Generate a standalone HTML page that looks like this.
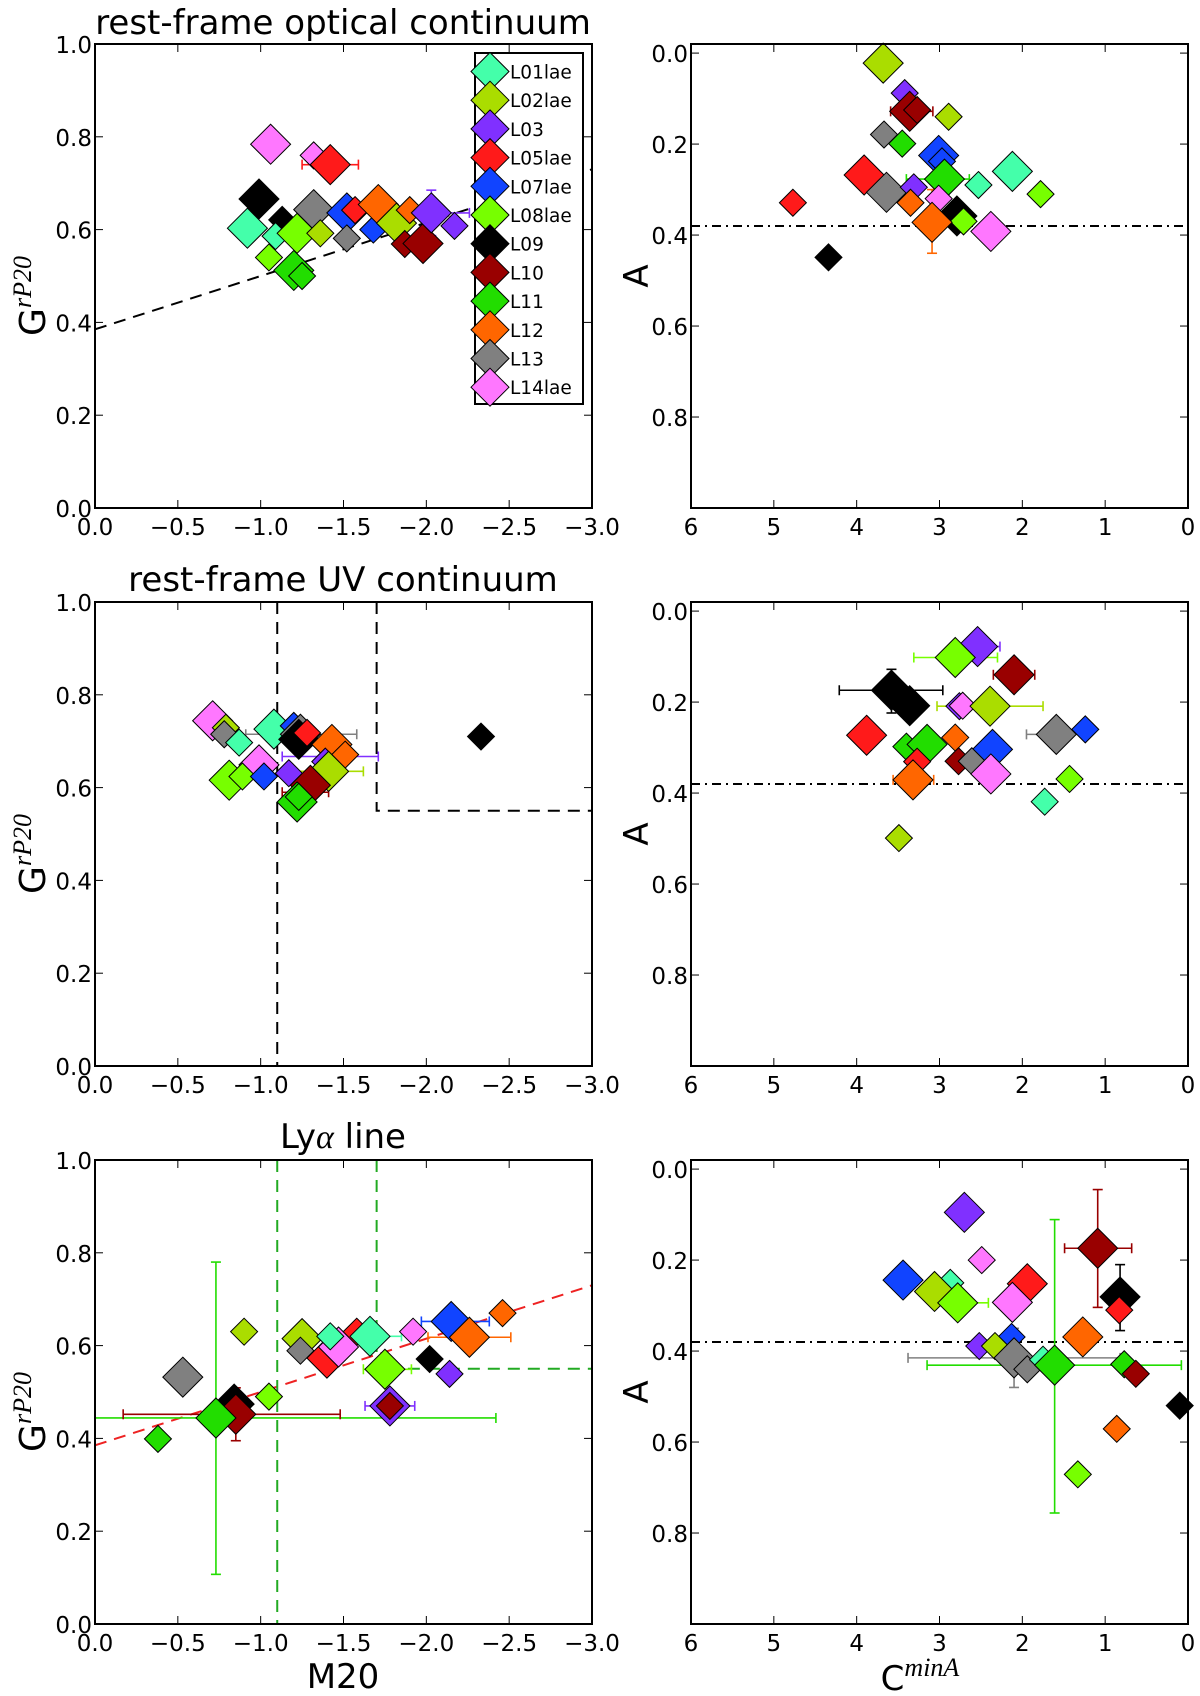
<!DOCTYPE html>
<html><head><meta charset="utf-8"><style>
html,body{margin:0;padding:0;background:#fff;}
svg{display:block;font-family:"DejaVu Sans","Liberation Sans",sans-serif;}
</style></head><body>
<svg id="fig" width="1200" height="1696" viewBox="0 0 1200 1696" xmlns="http://www.w3.org/2000/svg"></svg>
<script>
const seriesNames=['L01','L02','L03','L05','L07','L08','L09','L10','L11','L12','L13','L14'];
const seriesLabels=['L01lae','L02lae','L03','L05lae','L07lae','L08lae','L09','L10','L11','L12','L13','L14lae'];
const seriesColors=['#44ffaa','#aadd00','#8030ff','#ff1a1a','#1144ff','#77ff00','#000000','#990000','#22dd00','#ff6600','#808080','#ff77ff'];

// Panel 1: optical, G vs M20
const p1S=['L14','L14','L05','L09','L01','L09','L01','L08','L13','L02','L08','L11','L11','L07','L05','L07','L13','L12','L02','L12','L10','L10','L03','L03'];
const p1X=[-1.06,-1.32,-1.42,-0.99,-0.92,-1.13,-1.09,-1.22,-1.32,-1.36,-1.05,-1.20,-1.25,-1.52,-1.57,-1.68,-1.52,-1.71,-1.82,-1.90,-1.87,-1.98,-2.03,-2.17];
const p1Y=[0.784,0.76,0.74,0.666,0.603,0.621,0.586,0.592,0.643,0.592,0.54,0.512,0.50,0.636,0.642,0.60,0.581,0.654,0.614,0.642,0.569,0.570,0.636,0.608];
const p1B=[1,0,1,1,1,0,0,1,1,0,0,1,0,1,0,0,0,1,1,0,0,1,1,0];
const p1ES=['L05','L03'];
const p1EX=[-1.42,-2.03];const p1EY=[0.74,0.636];
const p1EXlo=[-1.25,-1.90];const p1EXhi=[-1.59,-2.26];
const p1EYlo=[0.74,0.587];const p1EYhi=[0.74,0.685];

// Panel 2: optical, A vs C
const p2S=['L02','L03','L10','L10','L02','L13','L11','L07','L07','L05','L11','L01','L01','L08','L13','L03','L14','L12','L05','L09','L08','L12','L14','L09'];
const p2X=[3.68,3.42,3.36,3.27,2.89,3.67,3.45,3.01,2.97,3.91,2.94,2.53,2.12,1.78,3.64,3.31,3.01,3.35,4.77,2.79,2.71,3.09,2.38,4.34];
const p2Y=[0.022,0.088,0.128,0.125,0.14,0.179,0.199,0.225,0.238,0.268,0.277,0.29,0.26,0.31,0.306,0.295,0.32,0.329,0.329,0.358,0.37,0.372,0.392,0.449];
const p2B=[1,0,1,0,0,0,0,1,0,1,1,0,1,0,1,0,0,0,0,1,0,1,1,0];
const p2ES=['L10','L12','L11'];
const p2EX=[3.36,3.09,2.94];const p2EY=[0.128,0.372,0.277];
const p2EXlo=[3.59,3.09,3.40];const p2EXhi=[3.08,3.09,2.64];
const p2EYlo=[0.128,0.30,0.277];const p2EYhi=[0.128,0.44,0.277];

// Panel 3: UV, G vs M20
const p3S=['L14','L02','L13','L01','L01','L07','L13','L09','L05','L12','L12','L03','L14','L08','L08','L07','L03','L02','L10','L11','L11','L09'];
const p3X=[-0.71,-0.79,-0.78,-0.87,-1.08,-1.20,-1.24,-1.23,-1.28,-1.43,-1.51,-1.39,-0.99,-0.81,-0.89,-1.02,-1.17,-1.41,-1.30,-1.22,-1.23,-2.33];
const p3Y=[0.744,0.729,0.715,0.697,0.726,0.733,0.715,0.704,0.718,0.693,0.671,0.656,0.649,0.616,0.624,0.624,0.631,0.635,0.605,0.569,0.58,0.71];
const p3B=[1,0,0,0,1,0,1,1,0,1,0,0,1,1,0,0,0,1,1,1,0,0];
const p3ES=['L13','L03','L02','L10'];
const p3EX=[-1.24,-1.42,-1.41,-1.30];const p3EY=[0.715,0.667,0.635,0.59];
const p3EXlo=[-0.91,-1.13,-1.20,-1.13];const p3EXhi=[-1.58,-1.71,-1.62,-1.41];
const p3EYlo=[0.715,0.667,0.635,0.59];const p3EYhi=[0.715,0.667,0.635,0.59];

// Panel 4: UV, A vs C
const p4S=['L03','L08','L10','L09','L09','L03','L14','L02','L13','L07','L05','L11','L11','L12','L07','L10','L13','L05','L12','L14','L08','L01','L02'];
const p4X=[2.54,2.81,2.10,3.58,3.36,2.76,2.72,2.39,1.59,1.24,3.88,3.40,3.15,2.81,2.36,2.77,2.61,3.27,3.32,2.38,1.43,1.73,3.49];
const p4Y=[0.078,0.102,0.14,0.174,0.208,0.209,0.208,0.209,0.271,0.26,0.273,0.298,0.293,0.278,0.304,0.33,0.33,0.331,0.371,0.358,0.369,0.419,0.499];
const p4B=[1,1,1,1,1,0,0,1,1,0,1,0,1,0,1,0,0,0,1,1,0,0,0];
const p4ES=['L03','L08','L10','L09','L02','L13','L12'];
const p4EX=[2.54,2.81,2.10,3.58,2.39,1.59,3.32];const p4EY=[0.078,0.102,0.14,0.174,0.209,0.271,0.371];
const p4EXlo=[2.81,3.31,2.35,4.21,3.03,1.95,3.56];const p4EXhi=[2.27,2.30,1.85,2.96,1.75,1.23,3.07];
const p4EYlo=[0.078,0.102,0.14,0.128,0.209,0.271,0.371];const p4EYhi=[0.078,0.102,0.14,0.224,0.209,0.271,0.371];

// Panel 5: Lya, G vs M20
const p5S=['L13','L11','L09','L10','L11','L02','L08','L02','L13','L05','L14','L01','L05','L01','L08','L03','L10','L14','L09','L03','L07','L12','L12'];
const p5X=[-0.53,-0.38,-0.84,-0.85,-0.73,-0.90,-1.05,-1.25,-1.24,-1.40,-1.47,-1.42,-1.58,-1.66,-1.75,-1.78,-1.78,-1.92,-2.02,-2.14,-2.15,-2.26,-2.46];
const p5Y=[0.532,0.399,0.474,0.452,0.444,0.63,0.49,0.615,0.589,0.573,0.597,0.62,0.63,0.62,0.549,0.47,0.47,0.63,0.571,0.539,0.652,0.618,0.67];
const p5B=[1,0,1,1,1,0,0,1,0,1,1,0,0,1,1,1,0,0,0,0,1,1,0];
const p5ES=['L11','L10','L01','L08','L03','L07','L12'];
const p5EX=[-0.73,-0.85,-1.66,-1.75,-1.78,-2.15,-2.26];const p5EY=[0.444,0.452,0.62,0.549,0.47,0.652,0.618];
const p5EXlo=[0.0,-0.17,-1.47,-1.62,-1.63,-1.97,-2.01];const p5EXhi=[-2.42,-1.48,-1.85,-1.91,-1.93,-2.38,-2.51];
const p5EYlo=[0.107,0.395,0.62,0.549,0.47,0.652,0.618];const p5EYhi=[0.78,0.509,0.62,0.549,0.47,0.652,0.618];

// Panel 6: Lya, A vs C
const p6S=['L03','L14','L07','L01','L02','L08','L05','L14','L10','L09','L05','L12','L07','L03','L02','L13','L13','L01','L11','L11','L10','L09','L12','L08'];
const p6X=[2.70,2.49,3.44,2.87,3.06,2.78,1.94,2.12,1.09,0.82,0.83,1.27,2.13,2.52,2.33,2.10,1.94,1.75,1.61,0.77,0.63,0.10,0.86,1.33];
const p6Y=[0.095,0.2,0.244,0.25,0.269,0.294,0.252,0.293,0.174,0.281,0.31,0.369,0.369,0.389,0.389,0.415,0.44,0.419,0.431,0.429,0.45,0.52,0.571,0.671];
const p6B=[1,0,1,0,1,1,1,1,1,1,0,1,0,0,0,1,0,0,1,0,0,0,0,0];
const p6ES=['L08','L10','L09','L13','L11'];
const p6EX=[2.78,1.09,0.82,2.10,1.61];const p6EY=[0.294,0.174,0.281,0.415,0.431];
const p6EXlo=[2.78,1.49,0.82,3.38,3.15];const p6EXhi=[2.41,0.68,0.82,0.82,0.08];
const p6EYlo=[0.294,0.045,0.21,0.35,0.111];const p6EYhi=[0.294,0.304,0.355,0.48,0.756];

const leftXTicks=[0,-0.5,-1,-1.5,-2,-2.5,-3];
const leftXTickLabels=['0.0','\u22120.5','\u22121.0','\u22121.5','\u22122.0','\u22122.5','\u22123.0'];
const leftYTicks=[0,0.2,0.4,0.6,0.8,1.0];
const leftYTickLabels=['0.0','0.2','0.4','0.6','0.8','1.0'];
const rightXTicks=[6,5,4,3,2,1,0];
const rightXTickLabels=['6','5','4','3','2','1','0'];
const rightYTicks=[0,0.2,0.4,0.6,0.8];
const rightYTickLabels=['0.0','0.2','0.4','0.6','0.8'];

const NS='http://www.w3.org/2000/svg';
const svg=document.getElementById('fig');
function mk(tag,attrs,parent){const e=document.createElementNS(NS,tag);for(const k in attrs)e.setAttribute(k,attrs[k]);(parent||svg).appendChild(e);return e;}
function colorOf(s){return seriesColors[seriesNames.indexOf(s)];}

const rowsTop=[44,602,1160];const H=464;const W=497;
const LX0=95,RX0=691;

function leftScales(top){return {sx:x=>LX0+(0-x)/3*W, sy:y=>top+(1-y)*H};}
function rightScales(top){return {sx:x=>RX0+(6-x)/6*W, sy:y=>top+(y+0.02)/1.02*H};}

function drawAxes(g,x0,top,sc,xt,xtl,yt,ytl){
  const frame=mk('rect',{x:x0,y:top,width:W,height:H,fill:'none',stroke:'#000','stroke-width':2},g);
  
  
  xt.forEach((v,i)=>{const px=sc.sx(v);
    mk('line',{x1:px,y1:top+H,x2:px,y2:top+H-8,stroke:'#000','stroke-width':1},g);
    mk('line',{x1:px,y1:top,x2:px,y2:top+8,stroke:'#000','stroke-width':1},g);
    const t=mk('text',{x:px,y:top+H+27,'text-anchor':'middle','font-size':23},g);t.textContent=xtl[i];
    
    
  });
  yt.forEach((v,i)=>{const py=sc.sy(v);
    mk('line',{x1:x0,y1:py,x2:x0+8,y2:py,stroke:'#000','stroke-width':1},g);
    mk('line',{x1:x0+W,y1:py,x2:x0+W-8,y2:py,stroke:'#000','stroke-width':1},g);
    const t=mk('text',{x:x0-3,y:py+9,'text-anchor':'end','font-size':23},g);t.textContent=ytl[i];
    
    
  });
}
function diamond(g,cx,cy,r,fill){
  const p=mk('polygon',{points:`${cx},${cy-r} ${cx+r},${cy} ${cx},${cy+r} ${cx-r},${cy}`,fill:fill,stroke:'#000','stroke-width':1},g);
  return p;
}
function drawPoints(g,sc,S,X,Y,B){
  for(let i=0;i<S.length;i++){
    const p=diamond(g,sc.sx(X[i]),sc.sy(Y[i]),B[i]?20:13.5,colorOf(S[i]));
    
    
  }
}
function drawErr(g,sc,S,X,Y,XL,XH,YL,YH){
  for(let i=0;i<S.length;i++){
    const c=colorOf(S[i]);const cy=sc.sy(Y[i]),cx=sc.sx(X[i]);
    const eg=mk('g',{stroke:c,'stroke-width':1.6,fill:'none'},g);
    
    
    if(XL[i]!==XH[i]){const a=sc.sx(XL[i]),b=sc.sx(XH[i]);
      mk('line',{x1:a,y1:cy,x2:b,y2:cy},eg);
      mk('line',{x1:a,y1:cy-5,x2:a,y2:cy+5},eg);mk('line',{x1:b,y1:cy-5,x2:b,y2:cy+5},eg);}
    if(YL[i]!==YH[i]){const a=sc.sy(YL[i]),b=sc.sy(YH[i]);
      mk('line',{x1:cx,y1:a,x2:cx,y2:b},eg);
      mk('line',{x1:cx-5,y1:a,x2:cx+5,y2:a},eg);mk('line',{x1:cx-5,y1:b,x2:cx+5,y2:b},eg);}
  }
}
function clipFor(id,x0,top){const d=mk('clipPath',{id:id});mk('rect',{x:x0,y:top,width:W,height:H},d);return 'url(#'+id+')';}

function title(txt,x,y,name){const t=mk('text',{x:x,y:y,'text-anchor':'middle','font-size':34});t.textContent=txt;
  return t;}

const lefts=[[p1S,p1X,p1Y,p1B,p1ES,p1EX,p1EY,p1EXlo,p1EXhi,p1EYlo,p1EYhi],[p3S,p3X,p3Y,p3B,p3ES,p3EX,p3EY,p3EXlo,p3EXhi,p3EYlo,p3EYhi],[p5S,p5X,p5Y,p5B,p5ES,p5EX,p5EY,p5EXlo,p5EXhi,p5EYlo,p5EYhi]];
const rights=[[p2S,p2X,p2Y,p2B,p2ES,p2EX,p2EY,p2EXlo,p2EXhi,p2EYlo,p2EYhi],[p4S,p4X,p4Y,p4B,p4ES,p4EX,p4EY,p4EXlo,p4EXhi,p4EYlo,p4EYhi],[p6S,p6X,p6Y,p6B,p6ES,p6EX,p6EY,p6EXlo,p6EXhi,p6EYlo,p6EYhi]];

for(let r=0;r<3;r++){
  const top=rowsTop[r];
  const gL=mk('g',{});
  
  
  const scL=leftScales(top);
  const cl=clipFor('cl'+r,LX0,top);
  const gLines=mk('g',{'clip-path':cl},gL);
  if(r===0||r===2){
    const ln=mk('line',{x1:scL.sx(0),y1:scL.sy(0.385),x2:scL.sx(-3),y2:scL.sy(0.385+0.115*3),stroke:r===0?'#000':'#ee2222','stroke-width':2,'stroke-dasharray':'12,8'},gLines);
    
    
  }
  if(r>=1){
    const c=r===1?'#000':'#22aa22';
    const a=mk('line',{x1:scL.sx(-1.1),y1:top,x2:scL.sx(-1.1),y2:top+H,stroke:c,'stroke-width':2,'stroke-dasharray':'12,8'},gLines);
    
    const b=mk('polyline',{points:`${scL.sx(-1.7)},${top} ${scL.sx(-1.7)},${scL.sy(0.55)} ${LX0+W},${scL.sy(0.55)}`,fill:'none',stroke:c,'stroke-width':2,'stroke-dasharray':'12,8'},gLines);
    
  }
  const dL=lefts[r];
  drawErr(gL,scL,dL[4],dL[5],dL[6],dL[7],dL[8],dL[9],dL[10]);
  drawPoints(gL,scL,dL[0],dL[1],dL[2],dL[3]);
  drawAxes(gL,LX0,top,scL,leftXTicks,leftXTickLabels,leftYTicks,leftYTickLabels);
  const yl=mk('text',{x:0,y:0,'font-size':36,'text-anchor':'middle',transform:`translate(45,${top+H/2+20}) rotate(-90)`});
  yl.innerHTML='G<tspan font-family="Liberation Serif,serif" font-style="italic" font-size="26" dy="-14">rP20</tspan>';
  

  const gR=mk('g',{});
  
  
  const scR=rightScales(top);
  const dd=mk('line',{x1:RX0,y1:scR.sy(0.38),x2:RX0+W,y2:scR.sy(0.38),stroke:'#000','stroke-width':2,'stroke-dasharray':'9,5,2,5'},gR);
  
  const dR=rights[r];
  drawErr(gR,scR,dR[4],dR[5],dR[6],dR[7],dR[8],dR[9],dR[10]);
  drawPoints(gR,scR,dR[0],dR[1],dR[2],dR[3]);
  drawAxes(gR,RX0,top,scR,rightXTicks,rightXTickLabels,rightYTicks,rightYTickLabels);
  const al=mk('text',{x:0,y:0,'font-size':34,'text-anchor':'middle',transform:`translate(648,${top+H/2}) rotate(-90)`});
  al.textContent='A';
}
title('rest-frame optical continuum',343,34,'title-optical');
title('rest-frame UV continuum',343,591,'title-uv');
const ly=title('',343,1148,'title-lya');
ly.innerHTML='Ly<tspan font-family="Liberation Serif,serif" font-style="italic">\u03b1</tspan> line';
const mx=mk('text',{x:343,y:1688,'text-anchor':'middle','font-size':34});mx.textContent='M20';

const cx=mk('text',{x:920,y:1690,'text-anchor':'middle','font-size':34});
cx.innerHTML='C<tspan font-family="Liberation Serif,serif" font-style="italic" font-size="26" dy="-14">minA</tspan>';


const lg=mk('g',{});


mk('rect',{x:475,y:53,width:108,height:351,fill:'#fff',stroke:'#000','stroke-width':2},lg);
seriesNames.forEach((s,i)=>{
  const y=71.5+i*28.7;
  const e=mk('g',{},lg);
  
  
  diamond(e,490,y,19,seriesColors[i]);
  const t=mk('text',{x:510,y:y+7,'font-size':18.5},e);t.textContent=seriesLabels[i];
});
</script>
</body></html>
